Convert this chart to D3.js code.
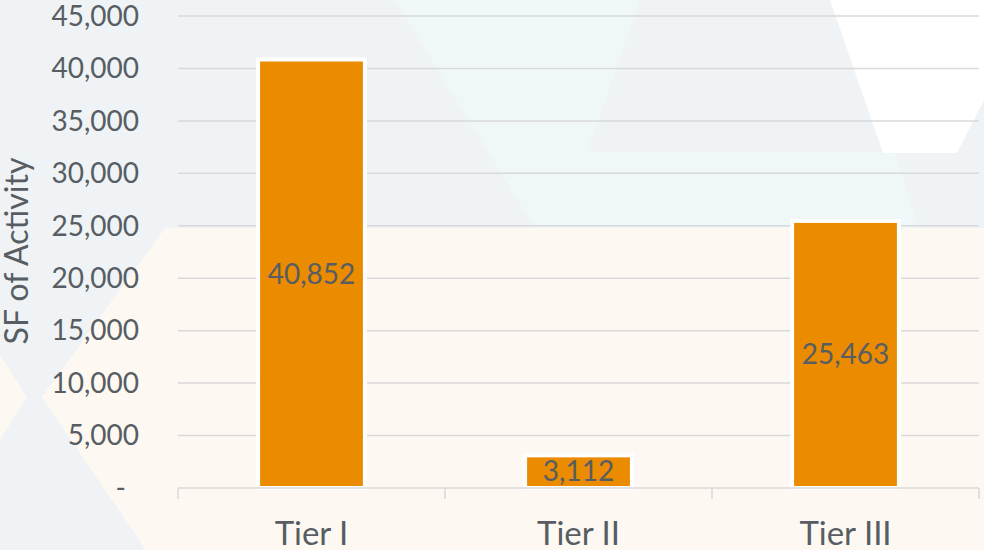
<!DOCTYPE html>
<html>
<head>
  <meta charset="utf-8">
  <title>SF of Activity by Tier</title>
  <style type="text/css">
    body { margin: 0; background: #fff; }
    svg { display: block; }
    text { font-family: Lato, "Open Sans", sans-serif; fill: #575d63; }
  </style>
</head>
<body>
  <div id="chart"></div>
  <script src="https://cdn.jsdelivr.net/npm/d3@7/dist/d3.min.js"></script>
  <script type="text/javascript">
    // chart data
    var categories = ['Tier I', 'Tier II', 'Tier III'];
    var sfValues = [40852, 3112, 25463];
    var yTicks = [0, 5000, 10000, 15000, 20000, 25000, 30000, 35000, 40000, 45000];
    var axisTitle = 'SF of Activity';

    var W = 984, H = 550;
    var svg = d3.select('#chart')
      .append('svg')
      .attr('width', W)
      .attr('height', H);

    // faint slide background behind the chart
    var bg = svg.append('g');
    bg.append('rect').attr('width', W).attr('height', H).attr('fill', '#eff3f5');
    var poly = function(pts, fill) {
      bg.append('polygon')
        .attr('points', pts.map(function(p){ return p.join(','); }).join(' '))
        .attr('fill', fill);
    };
    poly([[395,0],[640,0],[587,152],[895,152],[918,228],[535,228]], '#f0f7f9');
    poly([[830,0],[984,0],[984,100],[957,153],[883,153]], '#ffffff');
    poly([[165,228],[984,228],[984,550],[146,550],[42,397]], '#fdf9f2');
    poly([[0,355],[27,397],[0,440]], '#fdf9f2');

    var x = d3.scaleBand()
      .domain(categories)
      .range([178, 979])
      .padding(0);

    var y = d3.scaleLinear()
      .domain([0, 45000])
      .range([488, 16]);

    var fmt = d3.format(',');

    // gridlines
    svg.append('g')
      .selectAll('line')
      .data(yTicks.filter(function(d){ return d > 0; }))
      .enter()
      .append('line')
      .attr('x1', 178)
      .attr('x2', 979)
      .attr('y1', function(d){ return y(d); })
      .attr('y2', function(d){ return y(d); })
      .attr('stroke', '#d9d9d9')
      .attr('stroke-width', 1.5);

    // y tick labels (accounting style, zero shown as dash)
    svg.append('g')
      .selectAll('text')
      .data(yTicks)
      .enter()
      .append('text')
      .attr('x', function(d){ return d === 0 ? 126 : 139; })
      .attr('y', function(d){ return y(d); })
      .attr('dy', '0.35em')
      .attr('text-anchor', 'end')
      .style('font-size', '28px')
      .text(function(d){ return d === 0 ? '-' : fmt(d); });

    // bars
    var barW = x.bandwidth() * 0.4;
    svg.append('g')
      .selectAll('rect')
      .data(sfValues)
      .enter()
      .append('rect')
      .attr('x', function(d, i){ return x(categories[i]) + (x.bandwidth() - barW) / 2; })
      .attr('y', function(d){ return y(d); })
      .attr('width', barW)
      .attr('height', function(d){ return y(0) - y(d); })
      .attr('fill', '#ea8b00')
      .attr('stroke', '#ffffff')
      .attr('stroke-width', 4);

    // x axis line + category separators
    var axis = svg.append('g').attr('stroke', '#d9d9d9').attr('stroke-width', 1.5);
    axis.append('line')
      .attr('x1', 178).attr('x2', 979)
      .attr('y1', y(0)).attr('y2', y(0));
    axis.selectAll('line.tick')
      .data(categories.concat(['end']))
      .enter()
      .append('line')
      .attr('class', 'tick')
      .attr('x1', function(d, i){ return 178 + i * x.step(); })
      .attr('x2', function(d, i){ return 178 + i * x.step(); })
      .attr('y1', y(0))
      .attr('y2', y(0) + 11);

    // data labels centred in the bars
    svg.append('g')
      .selectAll('text')
      .data(sfValues)
      .enter()
      .append('text')
      .attr('x', function(d, i){ return x(categories[i]) + x.bandwidth() / 2; })
      .attr('y', function(d){ return (y(d) + y(0)) / 2; })
      .attr('dy', '0.35em')
      .attr('text-anchor', 'middle')
      .style('font-size', '28px')
      .text(function(d){ return fmt(d); });

    // category labels
    svg.append('g')
      .selectAll('text')
      .data(categories)
      .enter()
      .append('text')
      .attr('x', function(d){ return x(d) + x.bandwidth() / 2; })
      .attr('y', 545)
      .attr('text-anchor', 'middle')
      .style('font-size', '33px')
      .text(function(d){ return d; });

    // axis title
    svg.append('text')
      .attr('transform', 'translate(28,251) rotate(-90)')
      .attr('text-anchor', 'middle')
      .style('font-size', '32px')
      .text(axisTitle);
  </script>
</body>
</html>
